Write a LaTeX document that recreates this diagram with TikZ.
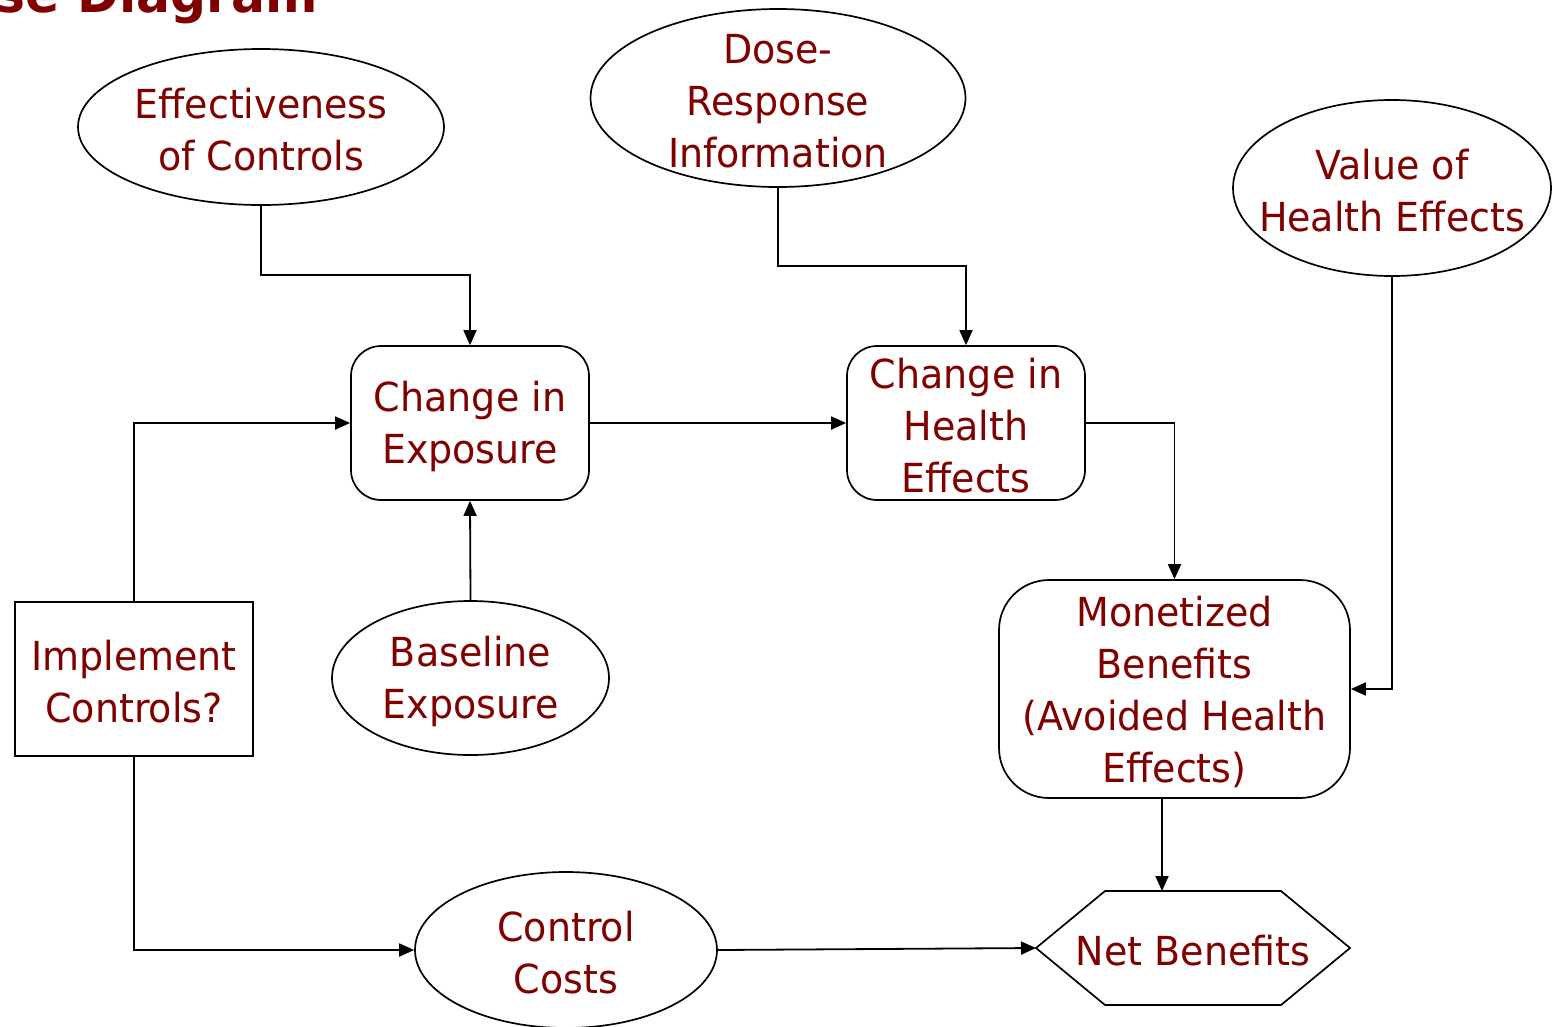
\documentclass[tikz,border=0pt]{standalone}
\usepackage{fontspec}
\setmainfont{DejaVu Sans}[FakeStretch=0.95]
\usetikzlibrary{shapes.geometric,arrows.meta}
\definecolor{labelred}{RGB}{128,0,0}
\begin{document}
\begin{tikzpicture}[x=1pt,y=-1pt,
  every node/.style={inner sep=0pt},
  txt/.style={text=labelred,font=\fontsize{40}{52}\selectfont,align=center,yshift=-3pt},
  chance/.style={draw=black,line width=1.7pt,ellipse},
  calc/.style={draw=black,line width=1.7pt,rounded corners=30pt,minimum width=238pt,minimum height=154pt},
  decision/.style={draw=black,line width=1.7pt,rectangle,minimum width=238pt,minimum height=154pt},
  link/.style={draw=black,line width=1.8pt,-{Triangle[length=15pt,width=13pt]}}
]
\useasboundingbox (0,0) rectangle (1560,1026);

% heading, running off the top-left corner
\node[anchor=base east,text=labelred,font=\bfseries\fontsize{53}{60}\selectfont] (title) at (318,12) {se Diagram};

% chance nodes (outline first, label on top)
\node[chance,minimum width=366pt,minimum height=156pt] (eff) at (261,127) {};
\node[txt] (efft) at (eff) {Effectiveness\\of Controls};
\node[chance,minimum width=375pt,minimum height=178pt] (dose) at (778,98) {};
\node[txt] (doset) at (dose) {Dose-\\Response\\Information};
\node[chance,minimum width=318pt,minimum height=176pt] (value) at (1392,188) {};
\node[txt] (valuet) at (value) {Value of\\Health Effects};
\node[chance,minimum width=277pt,minimum height=154pt] (base) at (470.5,678) {};
\node[txt] (baset) at (base) {Baseline\\Exposure};
\node[chance,minimum width=302pt,minimum height=156pt] (cost) at (566,950) {};
\node[txt] (costt) at (cost) {Control\\Costs};

% calculated nodes
\node[calc] (expo) at (470,423) {};
\node[txt] (expot) at (expo) {Change in\\Exposure};
\node[calc] (health) at (966,423) {};
\node[txt] (healtht) at (health) {Change in\\Health\\Effects};
\node[calc,rounded corners=50pt,minimum width=351pt,minimum height=218pt] (money) at (1174.5,689) {};
\node[txt] (moneyt) at (money) {Monetized\\Benefits\\(Avoided Health\\Effects)};

% decision node
\node[decision] (impl) at (134,679) {};
\node[txt] (implt) at (impl) {Implement\\Controls?};

% value node (hexagon)
\coordinate (netL) at (1036,948);
\coordinate (netT) at (1162,891);
\draw[line width=1.7pt] (1036,948) -- (1105,891) -- (1281,891) -- (1350,948) -- (1281,1005) -- (1105,1005) -- cycle;
\node[txt] (net) at (1193,948) {Net Benefits};

% influences
\draw[link] (eff.south) |- (365,275) -| (expo.north);
\draw[link] (dose.south) |- (870,266) -| (health.north);
\draw[link] (expo.east) -- (health.west);
\draw[link] (impl.north) |- (expo.west);
\draw[link] (base.north) -- (expo.south);
\draw[link] (health.east) -| (money.north);
\draw[link] (value.south) |- (money.east);
\draw[link] (money.south -| netT) -- (netT);
\draw[link] (impl.south) |- (cost.west);
\draw[link] (cost.east) -- (netL);
\end{tikzpicture}
\end{document}
